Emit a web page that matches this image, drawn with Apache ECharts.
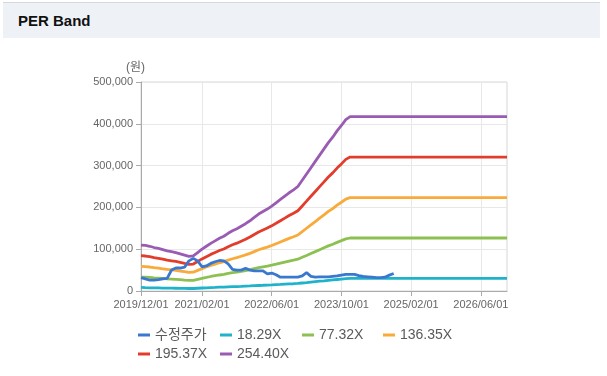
<!DOCTYPE html>
<html>
<head>
<meta charset="utf-8">
<script src="https://cdn.jsdelivr.net/npm/echarts@6/dist/echarts.min.js"></script>
<style>
  html, body { margin: 0; padding: 0; background: #fff; }
  #page { position: relative; width: 607px; height: 376px; overflow: hidden; }
  #header {
    position: absolute; left: 3px; top: 2px; width: 597px; height: 35px;
    background: #eef2f7; border-top: 1px solid #d4d8dd;
  }
  #header span {
    position: absolute; left: 15px; top: 9px;
    font: bold 15px "Liberation Sans", Arial, sans-serif; color: #111;
  }
  #chart { position: absolute; left: 0; top: 0; width: 607px; height: 376px; }
</style>
</head>
<body>
<div id="page">
  <div id="header"><span>PER Band</span></div>
  <div id="chart"></div>
</div>
<script>
// x 축 레이블 (월 단위 카테고리 중 표시되는 것)
const tickLabels = ["2019/12/01", "2021/02/01", "2022/06/01", "2023/10/01", "2025/02/01", "2026/06/01"];

// 2019/12 ~ 2026/12 월별 카테고리
const months = [];
for (let y = 2019, m = 12; y < 2027; ) {
  months.push(y + "/" + String(m).padStart(2, "0") + "/01");
  if (y === 2026 && m === 12) break;
  m++;
  if (m > 12) { m = 1; y++; }
}

const seriesNames = ["수정주가", "18.29X", "77.32X", "136.35X", "195.37X", "254.40X"];
const colors = ["#3a78d0", "#1fb3cb", "#8cc152", "#f8aa3a", "#e23c2c", "#9a5cb2"];

// 수정주가 (2019/12 ~ 2024/10)
const price = [
  32000, 29000, 26000, 26000, 27000, 29000, 30000, 50000, 55000, 55000,
  57000, 72000, 78000, 72000, 58000, 60000, 66000, 70000, 73000, 72000,
  65000, 52000, 50000, 50000, 54000, 50000, 48000, 48000, 48000, 41000,
  43000, 39000, 33000, 33000, 33000, 33000, 33000, 36000, 44000, 35000,
  33000, 34000, 34000, 34000, 35000, 36000, 38000, 40000, 40000, 40000,
  37000, 35000, 34000, 33000, 32000, 32000, 33000, 38000, 42000
];

// PER 밴드 (2019/12 ~ 2023/12, 이후 동일 값 유지)
const band18 = [
  8900, 8200, 7700, 7500, 7300, 7100, 6900, 6800, 6600, 6400,
  6200, 6000, 6000, 6600, 7200, 7700, 8200, 8600, 9100, 9400,
  9900, 10400, 10700, 11100, 11600, 12100, 12700, 13200, 13700, 14100,
  14600, 15200, 15700, 16300, 16900, 17400, 18000, 19100, 20100, 21200,
  22300, 23400, 24400, 25500, 26500, 27500, 28500, 29500, 30000
];
const band77 = [
  33400, 33100, 32500, 31600, 31000, 30100, 29200, 28600, 28000, 27100,
  26100, 25200, 25500, 28000, 30400, 32500, 34700, 36500, 38300, 39800,
  42000, 43800, 45300, 47100, 48900, 51100, 53500, 55900, 57800, 59600,
  61700, 64100, 66600, 69000, 71400, 73600, 76000, 80600, 85100, 89700,
  94200, 98800, 103400, 107900, 111900, 116400, 120400, 124600, 126800
];
const band136 = [
  59000, 58400, 57400, 55700, 54700, 53100, 51500, 50400, 49300, 47700,
  46100, 44500, 45000, 49300, 53600, 57400, 61100, 64300, 67500, 70200,
  74000, 77200, 79900, 83100, 86300, 90000, 94300, 98600, 101800, 105100,
  108800, 113100, 117400, 121700, 126000, 129700, 134000, 142000, 150100, 158100,
  166200, 174200, 182200, 190300, 197200, 205300, 212300, 219800, 223500
];
const band195 = [
  84500, 83700, 82200, 79900, 78300, 76000, 73700, 72200, 70700, 68400,
  66000, 63700, 64500, 70700, 76800, 82200, 87600, 92200, 96800, 100600,
  106000, 110600, 114400, 119000, 123600, 129000, 135200, 141300, 145900, 150500,
  155900, 162000, 168200, 174300, 180500, 185900, 192000, 203500, 215000, 226600,
  238100, 249600, 261100, 272600, 282600, 294100, 304100, 314900, 320300
];
const band254 = [
  110000, 109000, 107000, 104000, 102000, 99000, 96000, 94000, 92000, 89000,
  86000, 83000, 84000, 92000, 100000, 107000, 114000, 120000, 126000, 131000,
  138000, 144000, 149000, 155000, 161000, 168000, 176000, 184000, 190000, 196000,
  203000, 211000, 219000, 227000, 235000, 242000, 250000, 265000, 280000, 295000,
  310000, 325000, 340000, 355000, 368000, 383000, 396000, 410000, 417000
];

const FONT = '"Liberation Sans", "Noto Sans CJK KR", Arial, sans-serif';

// 밴드는 마지막 값으로 축 끝까지 연장
function toPoints(values, extend) {
  const pts = values.map((v, i) => [i, v]);
  if (extend) pts.push([months.length - 1, values[values.length - 1]]);
  return pts;
}

const seriesData = [
  toPoints(price, false),
  toPoints(band18, true),
  toPoints(band77, true),
  toPoints(band136, true),
  toPoints(band195, true),
  toPoints(band254, true)
];

const isTick = (idx, val) => tickLabels.indexOf(val) >= 0;

const legendPos = [
  [138, 328], [220, 328], [302, 328], [383, 328],
  [138, 347], [220, 347]
];

const chart = echarts.init(document.getElementById("chart"));

chart.setOption({
  animation: false,
  color: colors,
  grid: {
    left: 141, right: 100, top: 82, bottom: 85,
    show: true, borderColor: "#d6d6d6", borderWidth: 1
  },
  legend: seriesNames.map((name, i) => ({
    data: [name],
    left: legendPos[i][0],
    top: legendPos[i][1],
    icon: "rect",
    itemWidth: 12,
    itemHeight: 3,
    padding: 0,
    textStyle: { fontSize: 14, color: "#5a5a5a", fontFamily: FONT }
  })),
  graphic: [
    {
      type: "text",
      left: 126,
      top: 62,
      style: { text: "(원)", fontSize: 12, fill: "#666", fontFamily: FONT }
    }
  ],
  xAxis: {
    type: "category",
    data: months,
    boundaryGap: false,
    axisLine: { lineStyle: { color: "#aaa" } },
    axisTick: { interval: isTick, length: 5, lineStyle: { color: "#aaa" } },
    axisLabel: {
      interval: isTick,
      color: "#666",
      fontSize: 11,
      fontFamily: FONT,
      margin: 8
    },
    splitLine: { show: true, interval: isTick, lineStyle: { color: "#e8e8e8" } }
  },
  yAxis: {
    type: "value",
    min: 0,
    max: 500000,
    interval: 100000,
    axisLine: { show: true, lineStyle: { color: "#aaa" } },
    axisTick: { show: true, length: 5, lineStyle: { color: "#aaa" } },
    axisLabel: {
      color: "#666",
      fontSize: 11,
      fontFamily: FONT,
      margin: 8,
      formatter: v => v.toLocaleString("en-US")
    },
    splitLine: { lineStyle: { color: "#e8e8e8" } }
  },
  series: seriesNames.map((name, i) => ({
    name: name,
    type: "line",
    data: seriesData[i],
    showSymbol: false,
    symbol: "none",
    lineStyle: { width: 2.8 },
    z: i === 0 ? 10 : 2
  }))
});
</script>
</body>
</html>
